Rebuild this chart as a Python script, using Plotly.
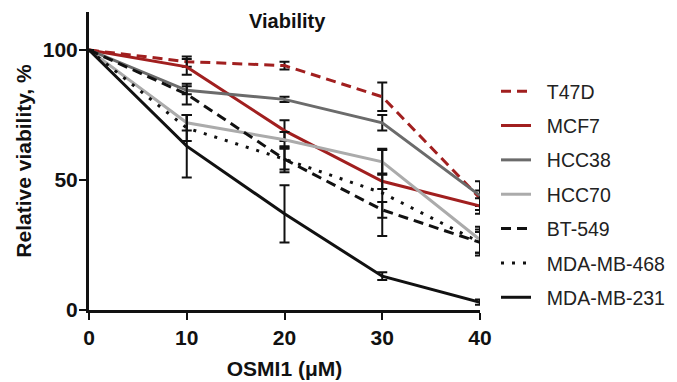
import plotly.graph_objects as go

doses = [0, 10, 20, 30, 40]
names = ["T47D", "MCF7", "HCC38", "HCC70", "BT-549", "MDA-MB-468", "MDA-MB-231"]
t47d = [100, 95.5, 94, 82, 43]
t47d_err = [0, 2, 1.5, 5.5, 3]
mcf7 = [100, 93.5, 69, 49.5, 40]
mcf7_err = [0, 3, 4, 3, 3]
hcc38 = [100, 84.5, 81, 72, 44]
hcc38_err = [0, 1.5, 1, 3, 5.5]
hcc70 = [100, 72, 65.5, 57, 27]
hcc70_err = [0, 3, 3, 5, 5]
bt549 = [100, 83, 58, 38.5, 26]
bt549_err = [0, 4, 5, 3, 5]
mda468 = [100, 70, 58, 45, 26]
mda468_err = [0, 5, 4, 16.5, 4]
mda231 = [100, 63, 37, 13, 3]
mda231_err = [0, 12, 11, 1.5, 1]

values = [t47d, mcf7, hcc38, hcc70, bt549, mda468, mda231]
errors = [t47d_err, mcf7_err, hcc38_err, hcc70_err, bt549_err, mda468_err, mda231_err]
colors = ["#A11F1F", "#A11F1F", "#6B6B6B", "#ABABAB", "#111111", "#111111", "#111111"]
dashes = ["10px,6px", "solid", "solid", "solid", "10px,6px", "3px,8px", "solid"]

FONT = "Arial, Liberation Sans, Helvetica, sans-serif"

fig = go.Figure()
for i in range(len(names)):
    fig.add_trace(go.Scatter(
        x=doses, y=values[i], name="\u00a0\u00a0" + names[i], mode="lines",
        legendgroup=names[i],
        line=dict(color=colors[i], width=3, dash=dashes[i]),
        error_y=dict(type="data", array=errors[i], visible=True,
                     color="#111111", thickness=2, width=5),
    ))

fig.update_layout(
    width=677, height=382,
    margin=dict(l=89, r=197, t=12, b=72, autoexpand=False),
    paper_bgcolor="white", plot_bgcolor="white",
    font=dict(family=FONT, color="#222222"),
    legend=dict(x=496 / 677, xref="container", xanchor="left",
                y=1 - 72 / 382, yref="container", yanchor="top", maxheight=380,
                font=dict(size=19.5, color="#222222", family=FONT),
                tracegroupgap=6, itemwidth=30, bgcolor="rgba(0,0,0,0)"),
    annotations=[dict(text="<b>Viability</b>", x=20.3, y=111, xref="x", yref="y",
                      showarrow=False, font=dict(size=20, color="#111111", family=FONT))],
)
fig.update_xaxes(range=[0, 40], tickvals=[0, 10, 20, 30, 40], automargin=False,
                 showline=True, linecolor="#111111", linewidth=3,
                 ticks="outside", ticklen=7, tickwidth=2, tickcolor="#111111",
                 showgrid=False, zeroline=False,
                 tickfont=dict(size=21, color="#111111", family=FONT, weight="bold"),
                 title=dict(text="<b>OSMI1 (μM)</b>", font=dict(size=21, color="#111111", family=FONT), standoff=14))
fig.update_yaxes(range=[0, 114.6], tickvals=[0, 50, 100], automargin=False,
                 showline=True, linecolor="#111111", linewidth=3,
                 ticks="outside", ticklen=7, tickwidth=2, tickcolor="#111111",
                 showgrid=False, zeroline=False, ticklabelstandoff=-3,
                 tickfont=dict(size=21, color="#111111", family=FONT, weight="bold"),
                 title=dict(text="<b>Relative viability, %</b>", font=dict(size=21, color="#111111", family=FONT), standoff=6))

fig.write_html("out.html")
